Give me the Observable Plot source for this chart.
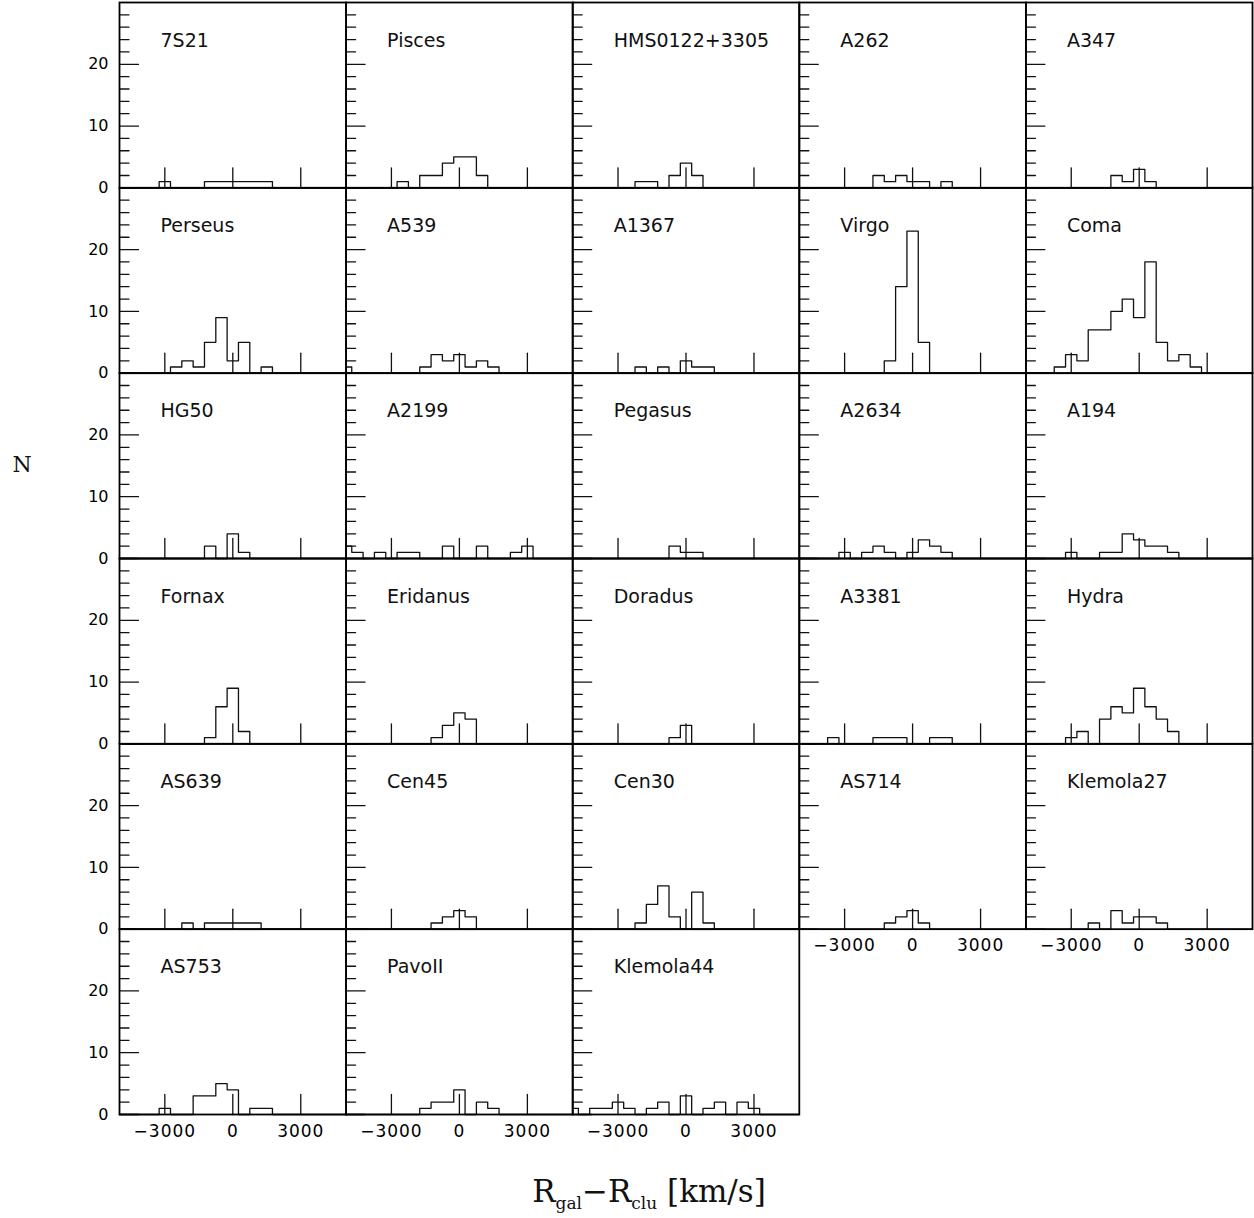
<!DOCTYPE html>
<html>
<head>
<meta charset="utf-8">
<script src="https://cdn.jsdelivr.net/npm/d3@7"></script>
<script src="https://cdn.jsdelivr.net/npm/@observablehq/plot@0.6"></script>
<style>
  html, body { margin: 0; padding: 0; background: #fff; }
  #chart { width: 1254px; height: 1218px; }
  g[aria-label="x-axis tick label"] text { letter-spacing: 1px; }
  g[aria-label="panel name"] text { letter-spacing: 0.5px; }
</style>
</head>
<body>
<div id="chart"></div>
<script>
// Cluster names, in panel order (five panels per row).
const clusters = [
  "7S21", "Pisces", "HMS0122+3305", "A262", "A347",
  "Perseus", "A539", "A1367", "Virgo", "Coma",
  "HG50", "A2199", "Pegasus", "A2634", "A194",
  "Fornax", "Eridanus", "Doradus", "A3381", "Hydra",
  "AS639", "Cen45", "Cen30", "AS714", "Klemola27",
  "AS753", "PavoII", "Klemola44"
];

// Velocity-offset bin centres (km/s), 500 km/s wide bins.
const binCenters = [
  -5000, -4500, -4000, -3500, -3000, -2500, -2000, -1500, -1000, -500,
  0, 500, 1000, 1500, 2000, 2500, 3000, 3500, 4000, 4500, 5000
];

// Galaxy counts per bin, one row per cluster (same order as clusters).
const counts = [
  [0,0,0,0,1,0,0,0,1,1,1,1,1,1,0,0,0,0,0,0,0],   // 7S21
  [0,0,0,0,0,1,0,2,2,4,5,5,2,0,0,0,0,0,0,0,0],   // Pisces
  [0,0,0,0,0,0,1,1,0,2,4,2,0,0,0,0,0,0,0,0,0],   // HMS0122+3305
  [0,0,0,0,0,0,0,2,1,2,1,1,0,1,0,0,0,0,0,0,0],   // A262
  [0,0,0,0,0,0,0,0,2,1,3,1,0,0,0,0,0,0,0,0,0],   // A347
  [0,0,0,0,0,1,2,1,5,9,2,5,0,1,0,0,0,0,0,0,0],   // Perseus
  [1,0,0,0,0,0,0,1,3,2,3,1,2,1,0,0,0,0,0,0,0],   // A539
  [0,0,0,0,0,0,1,0,1,0,2,1,1,0,0,0,0,0,0,0,0],   // A1367
  [0,0,0,0,0,0,0,0,2,14,23,5,0,0,0,0,0,0,0,0,0], // Virgo
  [0,0,0,1,3,2,7,7,10,12,9,18,5,2,3,1,0,0,0,0,0],// Coma
  [0,0,0,0,0,0,0,0,2,0,4,1,0,0,0,0,0,0,0,0,0],   // HG50
  [2,1,0,1,0,1,1,0,0,2,0,0,2,0,0,1,2,0,0,0,0],   // A2199
  [0,0,0,0,0,0,0,0,0,2,1,1,0,0,0,0,0,0,0,0,0],   // Pegasus
  [0,0,0,0,1,0,1,2,1,0,1,3,2,1,0,0,0,0,0,0,0],   // A2634
  [0,0,0,0,1,0,0,1,1,4,3,2,2,1,0,0,0,0,0,0,0],   // A194
  [0,0,0,0,0,0,0,0,1,6,9,2,0,0,0,0,0,0,0,0,0],   // Fornax
  [0,0,0,0,0,0,0,0,1,3,5,4,0,0,0,0,0,0,0,0,0],   // Eridanus
  [0,0,0,0,0,0,0,0,0,1,3,0,0,0,0,0,0,0,0,0,0],   // Doradus
  [0,0,0,1,0,0,0,1,1,1,0,0,1,1,0,0,0,0,0,0,0],   // A3381
  [0,0,0,0,1,2,0,4,6,5,9,6,4,2,0,0,0,0,0,0,0],   // Hydra
  [0,0,0,0,0,0,1,0,1,1,1,1,1,0,0,0,0,0,0,0,0],   // AS639
  [0,0,0,0,0,0,0,0,1,2,3,2,0,0,0,0,0,0,0,0,0],   // Cen45
  [0,0,0,0,0,0,1,4,7,2,0,6,1,0,0,0,0,0,0,0,0],   // Cen30
  [0,0,0,0,0,0,0,0,1,2,3,1,0,0,0,0,0,0,0,0,0],   // AS714
  [0,0,0,0,0,0,1,0,3,1,2,2,1,0,0,0,0,0,0,0,0],   // Klemola27
  [0,0,0,0,1,0,0,3,3,5,4,0,1,1,0,0,0,0,0,0,0],   // AS753
  [0,0,0,0,0,0,0,1,2,2,4,0,2,1,0,0,0,0,0,0,0],   // PavoII
  [1,0,1,1,2,1,0,1,2,0,3,0,1,2,0,2,1,0,0,0,0]    // Klemola44
];

// Axis ticks.
const xTicks = [-3000, 0, 3000];
const yMajorTicks = [0, 10, 20];
const yMinorTicks = [2, 4, 6, 8, 12, 14, 16, 18, 22, 24, 26, 28];

const nCols = 5;
const panels = clusters.map((name, i) => ({name, row: Math.floor(i / nCols), col: i % nCols}));
const bins = panels.flatMap((p, i) => binCenters.map((v, j) => ({...p, v, n: counts[i][j]})));

// Plain straight tick drawn from the anchor point along the vector direction.
const tickShape = {draw(context, l) { context.moveTo(0, 0); context.lineTo(0, -l); }};
const fmt = d => d < 0 ? "\u2212" + Math.abs(d) : String(d);
const ink = "#111";

const plot = Plot.plot({
  width: 1254,
  height: 1218,
  marginLeft: 119,
  marginRight: 2,
  marginTop: 2,
  marginBottom: 104,
  style: {fontFamily: "DejaVu Sans", background: "white", color: "black"},
  x: {domain: [-5000, 5000]},
  y: {domain: [0, 30]},
  fx: {axis: null, padding: 0, round: false},
  fy: {axis: null, padding: 0, round: false},
  marks: [
    Plot.line(bins, {x: "v", y: "n", z: "name", fx: "col", fy: "row", curve: "step", stroke: ink, strokeWidth: 1.3}),
    Plot.vector(xTicks, {x: d => d, frameAnchor: "bottom", length: 20, rotate: 0, anchor: "start", shape: tickShape, stroke: ink, strokeWidth: 1.3}),
    Plot.vector(yMajorTicks, {y: d => d, frameAnchor: "left", length: 19, rotate: 90, anchor: "start", shape: tickShape, stroke: ink, strokeWidth: 1.3}),
    Plot.vector(yMinorTicks, {y: d => d, frameAnchor: "left", length: 9.5, rotate: 90, anchor: "start", shape: tickShape, stroke: ink, strokeWidth: 1.3}),
    Plot.frame({stroke: "black", strokeWidth: 1.8}),
    Plot.text(panels, {fx: "col", fy: "row", text: "name", frameAnchor: "top-left", dx: 41, dy: 38, textAnchor: "start", lineAnchor: "middle", fontSize: 19, fill: ink, ariaLabel: "panel name"}),
    Plot.axisX(xTicks, {tickSize: 0, tickPadding: 10, tickFormat: fmt, fontSize: 17, label: null}),
    Plot.axisY(yMajorTicks, {tickSize: 0, tickPadding: 11, fontSize: 16, label: null})
  ]
});

// Axis titles.
const svg = d3.select(plot);
svg.append("text")
  .attr("x", 22).attr("y", 466)
  .attr("text-anchor", "middle").attr("dominant-baseline", "middle")
  .style("font-family", "DejaVu Serif").style("font-size", "22px").attr("fill", ink)
  .text("N");

const xt = svg.append("text")
  .attr("x", 649).attr("y", 1202)
  .attr("text-anchor", "middle")
  .style("font-family", "DejaVu Serif").style("font-size", "31px").attr("fill", ink);
xt.append("tspan").text("R");
xt.append("tspan").attr("dy", 7).style("font-size", "17px").text("gal");
xt.append("tspan").attr("dy", -7).text("\u2212R");
xt.append("tspan").attr("dy", 7).style("font-size", "17px").text("clu");
xt.append("tspan").attr("dy", -7).text(" [km/s]");

document.getElementById("chart").appendChild(plot);
</script>
</body>
</html>
